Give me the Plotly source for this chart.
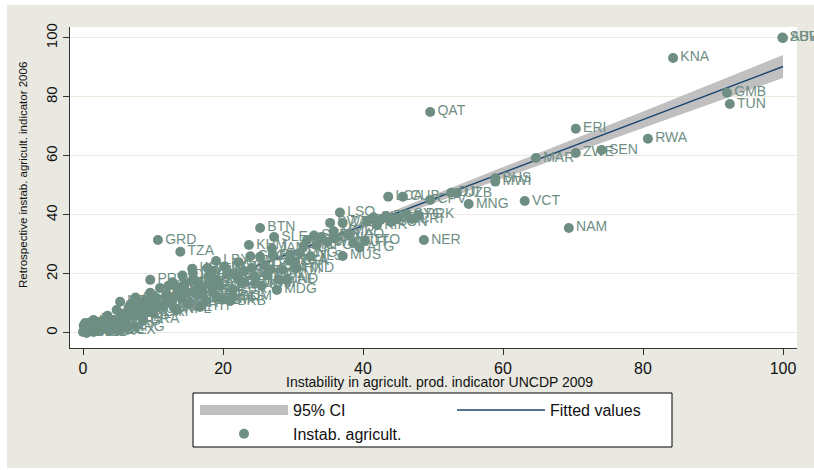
import plotly.graph_objects as go

# ---------------- data ----------------
codes = [
 "ABW","SUR","KNA","GMB","TUN","QAT","ERI","RWA","SEN","ZWE","MAR","BHS","MWI","VCT","MNG","CPV","DJI","UZB",
 "LCA","CUB","PRK","NAM","NER","MUS","LSO","SWZ","ZAF",
 "BOL","SLB","DMA","BWA","TON","FJI","SYC","CRI","KIR","ECU","AFG","WSM","VUT","TTO","ATG",
 "BTN","SLE","KHM","GIN","GRD","TZA","LBY","KEN","UGA","PRY","MDA","IND","COM","BFA",
 "GUY","BLZ","TCD","MLI","GNB","MOZ","CAF","MDG","LBR","SDN","ZMB","AGO","BEN","TGO","SOM","HTI","NPL","ETH",
 "YEM","MRT","BDI","COG","GAB","PNG","TLS","STP","NIC","HND","GTM","SMR","BRB","DOM","JAM","CMR","CIV","GHA",
 "NGA","BGD","MMR","LAO","PAK",
 "IRQ","SYR","JOR","LBN","KGZ","TJK","TKM","KAZ","AZE","ARM","GEO","ALB","MKD","BIH","SRB","MNE","UKR","ROU",
 "BGR","RUS","BLR","EGY","DZA","IRN","LKA","VNM","PHL","IDN","THA","MYS","CHN",
 "PER","CHL","COL","VEN","ARG","URY","BRA","MEX","TUR","SAU","KWT","OMN","ARE","BHR","ISR","CYP","MLT","KOR",
 "SGP","HKG","NZL","AUS","CAN","PAN","SLV","CHE","AUT",
 "FRA","DEU","GBR","USA","JPN","ITA","ESP","NLD","BEL","SWE","DNK","NOR","FIN","IRL","PRT","GRC","POL","CZE",
 "HUN","ISL","LUX",
]
instab_2009 = [
 100.0,99.9,84.3,92.0,92.4,49.6,70.4,80.7,74.1,70.4,64.7,58.9,58.9,63.1,55.1,49.6,52.6,53.4,
 43.6,45.7,47.9,69.4,48.7,37.1,36.7,35.3,37.1,
 40.6,41.5,42.5,43.3,44.0,45.0,46.2,47.0,42.0,32.0,33.4,34.9,38.6,40.3,39.5,
 25.3,27.3,23.7,23.9,10.7,13.9,19.0,15.6,15.7,9.6,5.3,29.1,24.6,30.3,
 29.6,27.1,25.3,24.1,24.6,26.3,28.1,27.7,21.4,20.6,19.1,17.1,19.1,17.1,21.4,16.7,13.4,10.0,
 22.5,23.0,21.8,20.2,22.2,31.0,32.5,33.0,31.5,30.5,28.5,19.9,21.0,26.0,27.0,23.0,25.5,26.8,
 29.5,34.0,35.8,38.0,36.0,
 11.0,13.4,9.6,7.7,15.7,14.5,12.0,18.0,16.0,12.5,14.0,18.5,11.5,15.0,17.5,13.0,19.5,12.0,
 16.2,10.5,14.8,18.0,16.5,13.7,11.8,17.8,12.8,14.2,18.5,10.4,12.2,
 6.3,4.3,2.4,0.3,6.3,3.9,8.6,5.0,7.0,8.0,9.0,7.5,6.5,5.5,4.8,8.8,3.5,9.2,
 4.0,5.8,7.8,6.8,3.0,8.4,9.8,2.0,2.8,
 0.0,0.2,0.5,0.8,0.1,1.0,1.3,1.5,1.7,1.8,2.2,2.5,0.6,1.2,3.2,2.0,3.6,1.0,
 2.6,0.4,1.5,
]
instab_2006 = [
 100.0,100.1,93.2,81.4,77.6,74.9,69.2,65.8,62.0,61.0,59.3,52.4,51.3,44.7,43.7,45.1,47.5,47.4,
 46.2,46.2,40.0,35.6,31.5,26.1,40.8,37.3,37.3,
 38.0,39.2,38.3,39.6,37.6,38.9,40.2,38.6,36.5,31.5,29.8,30.8,30.5,31.2,29.0,
 35.6,32.5,29.8,26.0,31.5,27.5,24.4,21.8,20.3,18.0,10.6,18.0,16.9,24.1,
 26.4,26.4,25.8,22.0,19.0,19.7,18.0,14.6,14.6,20.3,18.0,15.6,12.2,12.9,12.2,8.8,7.8,6.8,
 17.5,21.0,19.5,22.5,24.0,27.0,26.0,33.0,29.5,22.0,21.5,11.3,10.8,23.0,28.5,17.0,16.0,21.5,
 24.5,32.5,34.5,33.5,32.0,
 15.2,15.6,13.6,10.2,18.0,16.8,13.0,16.5,14.5,10.5,12.0,14.0,9.0,10.0,11.0,8.5,16.0,11.5,
 13.2,9.5,13.8,19.5,17.2,14.5,12.2,22.0,17.2,19.5,21.0,11.8,16.0,
 5.4,4.4,3.4,3.4,2.0,1.7,4.4,0.8,7.5,8.0,9.5,12.0,8.5,6.5,7.8,11.0,5.8,7.0,
 3.0,4.0,6.2,9.8,2.5,10.3,10.8,1.0,4.0,
 0.3,1.2,0.0,2.0,2.5,0.8,1.5,0.3,2.5,1.0,0.6,2.0,3.2,3.8,3.0,2.8,1.2,1.8,
 1.3,0.9,4.4,
]

# fitted values and 95% CI
fit_x = [0, 100]
fit_y = [0.4, 90.3]
ci_x = [0, 20, 40, 60, 80, 100]
ci_lo = [-0.5, 17.8, 35.3, 52.5, 69.5, 86.4]
ci_hi = [1.3, 19.0, 37.3, 56.1, 75.1, 94.2]

x_ticks = [0, 20, 40, 60, 80, 100]
y_ticks = [0, 20, 40, 60, 80, 100]

x_title = "Instability in agricult. prod. indicator UNCDP 2009"
y_title = "Retrospective instab. agricult. indicator 2006"

# ---------------- style ----------------
BG = "#e9e9e1"
GREEN = "#6e8e84"
NAVY = "#1a476f"
BAND = "#c0c0c0"
FONT = "Liberation Sans, Arial, sans-serif"
NARROW = "Liberation Sans Narrow, Arial Narrow, Liberation Sans, Arial, sans-serif"

fig = go.Figure()

# confidence band (legend shown through a dedicated swatch entry)
fig.add_trace(go.Scatter(
    x=ci_x + ci_x[::-1], y=ci_hi + ci_lo[::-1],
    fill="toself", fillcolor=BAND, mode="lines",
    line=dict(width=0, color=BAND), name="95% CI", hoverinfo="skip",
    showlegend=False, legendgroup="ci"))
fig.add_trace(go.Scatter(
    x=[None], y=[None], mode="lines",
    line=dict(width=15, color=BAND), name="95% CI",
    legend="legend", legendgroup="ci"))

fig.add_trace(go.Scatter(
    x=fit_x, y=fit_y, mode="lines",
    line=dict(color=NAVY, width=1.5), name="Fitted values",
    legend="legend2"))

fig.add_trace(go.Scatter(
    x=instab_2009, y=instab_2006, mode="markers+text",
    text=codes, textposition="middle right",
    textfont=dict(color=GREEN, size=14, family=FONT),
    marker=dict(color=GREEN, size=10, line=dict(width=0)),
    cliponaxis=False, name="Instab. agricult.", legend="legend"))

L, R, T, B = 70, 17, 27, 122
W, H = 814, 470
pw, ph = W - L - R, H - T - B

def px_x(p):
    return (p - L) / pw

def px_y(p):
    return (H - B - p) / ph

shapes = [
    dict(type="rect", xref="paper", yref="paper", layer="below",
         x0=px_x(7), x1=px_x(816), y0=px_y(468), y1=px_y(5),
         fillcolor=BG, line=dict(width=0)),
    dict(type="rect", xref="paper", yref="paper", layer="below",
         x0=0, x1=1, y0=0, y1=1, fillcolor="white", line=dict(width=0)),
    dict(type="rect", xref="paper", yref="paper", layer="below",
         x0=px_x(193), x1=px_x(672), y0=px_y(447), y1=px_y(393),
         fillcolor="white", line=dict(width=1, color="black")),
]

annotations = [
    dict(text=x_title, xref="paper", yref="paper", x=px_x(440), y=px_y(382),
         showarrow=False, xanchor="center", yanchor="middle",
         font=dict(size=14, family=FONT, color="#111")),
    dict(text=y_title, xref="paper", yref="paper", x=px_x(23), y=px_y(175),
         showarrow=False, xanchor="center", yanchor="middle", textangle=-90,
         font=dict(size=11.5, family=NARROW, color="#111")),
]

leg_common = dict(
    orientation="v", xanchor="left", yanchor="top",
    bgcolor="rgba(0,0,0,0)", borderwidth=0,
    font=dict(size=16, family=FONT, color="#111"),
    itemwidth=88, tracegroupgap=0,
)

fig.update_layout(
    width=W, height=H,
    margin=dict(l=L, r=R, t=T, b=B, autoexpand=False),
    paper_bgcolor="white", plot_bgcolor="white",
    shapes=shapes, annotations=annotations,
    font=dict(family=FONT, color="#111"),
    showlegend=True,
    legend=dict(x=px_x(195), y=px_y(393), **leg_common),
    legend2=dict(x=px_x(452), y=px_y(393), **leg_common),
    xaxis=dict(
        range=[-1.86, 102], tickvals=x_ticks, showgrid=False, zeroline=False,
        showline=True, linecolor="#333", linewidth=1,
        ticks="outside", ticklen=6, tickcolor="#333",
        tickfont=dict(size=16, family=FONT, color="#111"),
    ),
    yaxis=dict(
        range=[-5.1, 103.7], tickvals=y_ticks, showgrid=True, gridcolor="#ebebdd",
        gridwidth=1, zeroline=False,
        showline=True, linecolor="#333", linewidth=1,
        ticks="outside", ticklen=6, tickcolor="#333", tickangle=-90,
        tickfont=dict(size=15, family=NARROW, color="#111"),
    ),
)

fig.write_html(
    "out.html",
    config={"displayModeBar": False},
    post_script="document.body.style.margin='0';document.body.style.padding='0';",
)
